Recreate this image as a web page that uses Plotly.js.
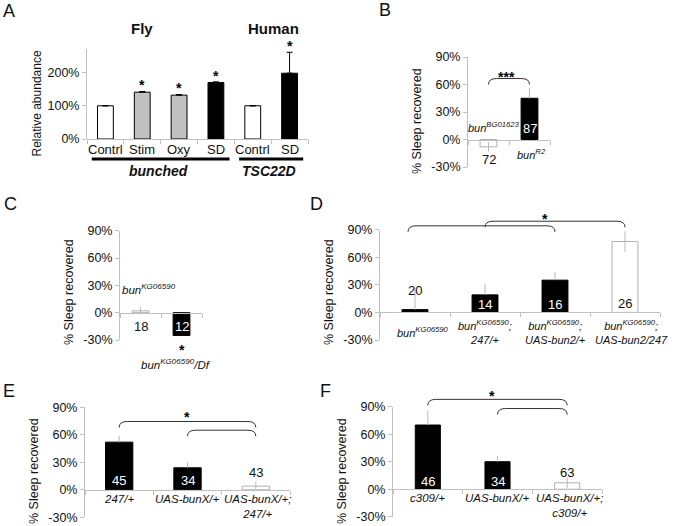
<!DOCTYPE html>
<html><head><meta charset="utf-8">
<script src="https://cdn.plot.ly/plotly-3.0.1.min.js"></script>
<style>html,body{margin:0;padding:0;background:#fff}</style>
</head><body><div id="chart" style="width:675px;height:526px"></div>
<script>
// ---------------- DATA ----------------
const aCategories = ['Contrl', 'Stim', 'Oxy', 'SD', 'Contrl', 'SD'];
const aValues = [100, 141, 132, 170, 100, 198];
const aErrors = [0, 2, 2, 2, 0, 63];
const aFill = ['#ffffff', '#c0c0c0', '#c0c0c0', '#000000', '#ffffff', '#000000'];
const aSignif = ['', '*', '*', '*', '', '*'];
const aGroups = ['bunched', 'TSC22D'];
const aGroupSpans = [[0, 3], [4, 5]];
const aSpecies = ['Fly', 'Human'];
const aTicks = [0, 100, 200];

const sleepTicks = [-30, 0, 30, 60, 90];

const bCategories = ['bun<sup>BG01623</sup>', 'bun<sup>R2</sup>'];
const bValues = [-8, 45];
const bErrors = [5, 11];
const bN = ['72', '87'];
const bFill = ['#ffffff', '#000000'];
const bPairs = [[0, 1]];
const bSignif = '***';

const cCategories = ['bun<sup>KG06590</sup>', 'bun<sup>KG06590</sup>/Df'];
const cValues = [2, -25];
const cErrors = [4, 0];
const cN = ['18', '12'];
const cFill = ['#ffffff', '#000000'];
const cSignif = ['', '*'];

const dCategories = ['bun<sup>KG06590</sup>', 'bun<sup>KG06590</sup>;<br>247/+',
  'bun<sup>KG06590</sup>;<br>UAS-bun2/+', 'bun<sup>KG06590</sup>;<br>UAS-bun2/247'];
const dValues = [3, 19, 35, 77];
const dErrors = [24, 12, 9, 11];
const dN = ['20', '14', '16', '26'];
const dFill = ['#000000', '#000000', '#000000', '#ffffff'];
const dPairs = [[0, 2], [1, 3]];
const dSignif = '*';

const eCategories = ['247/+', 'UAS-bunX/+', 'UAS-bunX/+;<br>247/+'];
const eValues = [52, 24, 4];
const eErrors = [7, 6, 5];
const eN = ['45', '34', '43'];
const eFill = ['#000000', '#000000', '#ffffff'];
const ePairs = [[0, 2], [1, 2]];
const eSignif = '*';

const fCategories = ['c309/+', 'UAS-bunX/+', 'UAS-bunX/+;<br>c309/+'];
const fValues = [70, 30, 7];
const fErrors = [16, 6, 6];
const fN = ['46', '34', '63'];
const fFill = ['#000000', '#000000', '#ffffff'];
const fPairs = [[0, 2], [1, 2]];
const fSignif = '*';

// ---------------- LAYOUT CONFIG ----------------
const W = 675, H = 526;
const FONT = '"Liberation Sans", Arial, sans-serif';
const AX = '#c0c0c0';
const TXT = '#111111';

const panels = [
  {key: 'A', s: '', cats: aCategories, vals: aValues, errs: aErrors, fill: aFill,
   px: [87, 308], py: [49.3, 139], range: [0, 270], tickvals: aTicks, bw: 0.43,
   title: 'Relative abundance', titleY: 103.5, titleSize: 12, letter: [9, 11],
   outlineAll: true, capW: 3, errColor: '#000',
   catDy: [-10, -10, -10, -10, -10, -10], catDx: [0, 0, 0, 0, 0, 0], catAnchor: 'middle', catSize: 13, catItalic: false},
  {key: 'B', s: '2', cats: bCategories, vals: bValues, errs: bErrors, fill: bFill, N: bN,
   px: [468, 550], py: [57, 167], range: [-30, 90], tickvals: sleepTicks, bw: 0.41,
   title: '% Sleep recovered', titleY: 121, letter: [385, 10],
   nDy: [-20, 11.5], catDy: [13, -14], catDx: [5, 2], catAnchor: 'middle', catSize: 11, catItalic: true,
   pairs: bPairs, levels: [66.5], starText: bSignif, starX: 0.45, starLevel: 72.5},
  {key: 'C', s: '3', cats: cCategories, vals: cValues, errs: cErrors, fill: cFill, N: cN,
   px: [120, 202], py: [230.7, 340], range: [-30, 90], tickvals: sleepTicks, bw: 0.41,
   title: '% Sleep recovered', titleY: 292, letter: [11, 204],
   nDy: [-14, -14], catDy: [24, -51], catDx: [8.5, -5.5], catAnchor: 'middle', catSize: 11.5, catItalic: true},
  {key: 'D', s: '4', cats: dCategories, vals: dValues, errs: dErrors, fill: dFill, N: dN,
   px: [380, 660], py: [229.5, 340], range: [-30, 90], tickvals: sleepTicks, bw: 0.37,
   title: '% Sleep recovered', titleY: 292, letter: [316, 204],
   nDy: [22, 8, 8, 8.5], catDy: [-20, -20, -20, -20], catDx: [8, 0, 0, 6], catAnchor: 'middle', catSize: 11, catItalic: true,
   pairs: dPairs, levels: [94, 99], pairDx: [-7, 0], starText: dSignif, starX: 1.86, starLevel: 106},
  {key: 'E', s: '5', cats: eCategories, vals: eValues, errs: eErrors, fill: eFill, N: eN,
   px: [85, 290], py: [407.3, 517.3], range: [-30, 90], tickvals: sleepTicks, bw: 0.4,
   title: '% Sleep recovered', titleY: 471, letter: [9, 391],
   nDy: [9, 9, 17], catDy: [-1, -1, -1], catDx: [0, 0, 2], catAnchor: 'top', catSize: 11.5, catItalic: true,
   pairs: ePairs, levels: [74.5, 65], starText: eSignif, starX: 0.99, starLevel: 84},
  {key: 'F', s: '6', cats: fCategories, vals: fValues, errs: fErrors, fill: fFill, N: fN,
   px: [393, 602], py: [406.7, 516.7], range: [-30, 90], tickvals: sleepTicks, bw: 0.36,
   title: '% Sleep recovered', titleY: 471, letter: [325, 391],
   nDy: [8, 8, 17], catDy: [-1, -1, -1], catDx: [0, 0, 2], catAnchor: 'top', catSize: 11.5, catItalic: true,
   pairs: fPairs, levels: [98, 88], starText: fSignif, starX: 0.92, starLevel: 106}
];

const px2x = px => px / W;
const py2y = py => 1 - py / H;
const vf = (p, v) => (v - p.range[0]) / (p.range[1] - p.range[0]);

const layout = {
  width: W, height: H, margin: {l: 0, r: 0, t: 0, b: 0},
  paper_bgcolor: '#ffffff', plot_bgcolor: 'rgba(0,0,0,0)', showlegend: false,
  font: {family: FONT, size: 12, color: TXT},
  annotations: [], shapes: []
};
const traces = [];

panels.forEach(p => {
  const n = p.cats.length;
  const idx = p.cats.map((_, i) => i);
  const yd = [py2y(p.py[1]), py2y(p.py[0])];
  const f0 = vf(p, 0);
  const xName = 'x' + p.s, yName = 'y' + p.s;
  const yDom = yName + ' domain';
  const boundaries = [];
  for (let k = 0; k <= n; k++) boundaries.push(k - 0.5);

  layout['xaxis' + p.s] = {
    domain: [px2x(p.px[0]), px2x(p.px[1])], range: [-0.5, n - 0.5],
    anchor: 'free', position: yd[0] + f0 * (yd[1] - yd[0]),
    showline: true, linecolor: AX, linewidth: 1, showgrid: false, zeroline: false,
    tickmode: 'array', tickvals: boundaries, ticktext: boundaries.map(() => ''),
    ticks: 'outside', ticklen: 4, tickcolor: AX,
    showticklabels: false, fixedrange: true
  };
  layout['yaxis' + p.s] = {
    domain: yd, range: p.range, anchor: xName,
    showline: true, linecolor: AX, linewidth: 1, showgrid: false, zeroline: false,
    tickmode: 'array', tickvals: p.tickvals, ticktext: p.tickvals.map(v => String(v) + '%'),
    ticks: 'outside', ticklen: 4, tickcolor: AX,
    tickfont: {family: FONT, size: 12.5, color: TXT}, fixedrange: true
  };

  const outline = p.fill.map(c => p.outlineAll ? '#000000' : (c === '#ffffff' ? '#b0b0b0' : '#000000'));
  const up = p.errs.slice();
  const down = p.errs.map((e, i) => (!p.outlineAll && p.fill[i] === '#ffffff') ? e : 0);
  traces.push({
    type: 'bar', x: idx, y: p.vals, xaxis: xName, yaxis: yName, width: p.bw,
    marker: {color: p.fill, line: {color: outline, width: 1}},
    error_y: {type: 'data', symmetric: false, array: up, arrayminus: down,
      color: p.errColor || '#b8b8b8', thickness: 1, width: p.capW || 0},
    hoverinfo: 'skip'
  });

  // category labels
  p.cats.forEach((c, i) => {
    layout.annotations.push({
      xref: xName, yref: yDom, x: i, y: f0, xshift: p.catDx[i], yshift: p.catDy[i],
      text: p.catItalic ? '<i>' + c + '</i>' : c, showarrow: false,
      xanchor: 'center', yanchor: p.catAnchor, align: 'center',
      font: {family: FONT, size: p.catSize, color: TXT}
    });
  });

  // N labels
  if (p.N) {
    p.N.forEach((t, i) => {
      const inside = p.fill[i] === '#000000' && Math.abs(p.nDy[i]) < 16 && (p.vals[i] * p.nDy[i] > 0);
      layout.annotations.push({
        xref: xName, yref: yDom, x: i, y: f0, yshift: p.nDy[i], text: t, showarrow: false,
        xanchor: 'center', yanchor: 'middle',
        font: {family: FONT, size: 13, color: inside ? '#ffffff' : TXT}
      });
    });
  }

  // brackets
  if (p.pairs) {
    const catPx = (p.px[1] - p.px[0]) / n;
    const plotH = p.py[1] - p.py[0];
    p.pairs.forEach((pr, k) => {
      const a = pr[0] + ((p.pairDx ? p.pairDx[k] : 0) / catPx), b = pr[1];
      const t = vf(p, p.levels[k]);
      const d = 6 / plotH, c = 8 / catPx;
      layout.shapes.push({
        type: 'path', xref: xName, yref: yDom, layer: 'above',
        path: `M ${a},${t - d} Q ${a},${t} ${a + c},${t} L ${b - c},${t} Q ${b},${t} ${b},${t - d}`,
        line: {color: '#333333', width: 1}
      });
    });
    layout.annotations.push({
      xref: xName, yref: yDom, x: p.starX, y: vf(p, p.starLevel), yshift: -4,
      text: '<b>' + p.starText + '</b>', showarrow: false, xanchor: 'center', yanchor: 'middle',
      font: {family: FONT, size: 14, color: '#000'}
    });
  }

  // y-axis title
  layout.annotations.push({
    xref: 'paper', yref: 'paper', x: px2x(p.px[0] - 51), y: py2y(p.titleY),
    text: p.title, textangle: -90, showarrow: false, xanchor: 'center', yanchor: 'middle',
    font: {family: FONT, size: p.titleSize || 12.5, color: TXT}
  });
  // panel letter
  layout.annotations.push({
    xref: 'paper', yref: 'paper', x: px2x(p.letter[0]), y: py2y(p.letter[1]),
    text: p.key, showarrow: false, xanchor: 'center', yanchor: 'middle',
    font: {family: FONT, size: 18, color: TXT}
  });
});

// Panel A extras
const pA = panels[0];
aSignif.forEach((s, i) => {
  if (!s) return;
  layout.annotations.push({
    xref: 'x', yref: 'y domain', x: i, y: vf(pA, aValues[i] + aErrors[i]), yshift: -4,
    text: '<b>' + s + '</b>', showarrow: false, xanchor: 'center', yanchor: 'bottom',
    font: {family: FONT, size: 14, color: '#000'}
  });
});
const aPlotH = pA.py[1] - pA.py[0];
aGroupSpans.forEach((sp, k) => {
  layout.shapes.push({
    type: 'line', xref: 'x', yref: 'y domain', x0: sp[0] - 0.37, x1: sp[1] + 0.37,
    y0: -20 / aPlotH, y1: -20 / aPlotH, line: {color: '#000', width: 3}
  });
  layout.annotations.push({
    xref: 'x', yref: 'y domain', x: (sp[0] + sp[1]) / 2 - 0.05, y: -32 / aPlotH,
    text: '<b><i>' + aGroups[k] + '</i></b>', showarrow: false, xanchor: 'center', yanchor: 'middle',
    font: {family: FONT, size: 14, color: TXT}
  });
});
const speciesX = [1.0, 4.55];
aSpecies.forEach((t, k) => {
  layout.annotations.push({
    xref: 'x', yref: 'paper', x: speciesX[k], y: py2y(28),
    text: '<b>' + t + '</b>', showarrow: false, xanchor: 'center', yanchor: 'middle',
    font: {family: FONT, size: 15, color: TXT}
  });
});
// Panel C significance star
const pC = panels[2];
cSignif.forEach((s, i) => {
  if (!s) return;
  layout.annotations.push({
    xref: 'x3', yref: 'y3 domain', x: i, y: vf(pC, 0), yshift: -34 - 3,
    text: '<b>' + s + '</b>', showarrow: false, xanchor: 'center', yanchor: 'middle',
    font: {family: FONT, size: 14, color: '#000'}
  });
});

Plotly.newPlot('chart', traces, layout, {displayModeBar: false, staticPlot: true});
</script>
</body></html>
